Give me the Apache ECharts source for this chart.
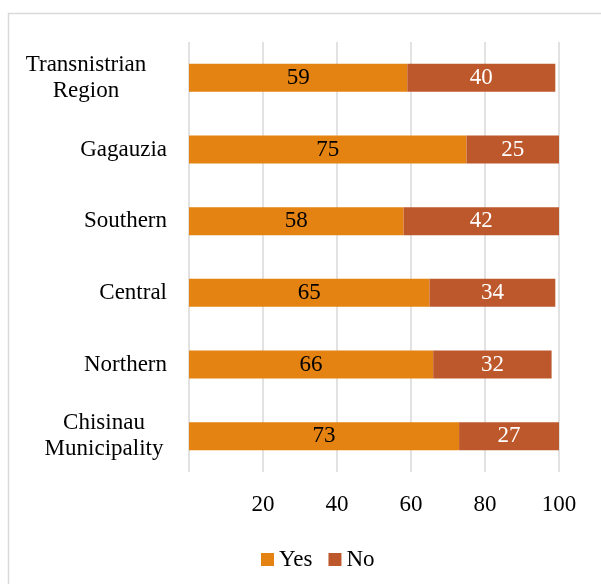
<!DOCTYPE html>
<html>
<head>
<meta charset="utf-8">
<script src="https://cdn.jsdelivr.net/npm/echarts@6/dist/echarts.min.js"></script>
<style>
  html, body { margin: 0; padding: 0; background: #fff; }
  #chart { width: 601px; height: 584px; }
</style>
</head>
<body>
<div id="chart"></div>
<script>
// regions, top to bottom as drawn
var regions = ["Transnistrian\nRegion", "Gagauzia", "Southern", "Central", "Northern", "Chisinau\nMunicipality"];
var yesData = [59, 75, 58, 65, 66, 73];
var noData = [40, 25, 42, 34, 32, 27];
var xTicks = [0, 20, 40, 60, 80, 100];

var font = "Liberation Serif";
var chart = echarts.init(document.getElementById("chart"));

// wrapped labels are centred inside their own box, like the original
function catLabel(v) {
  if (v.indexOf("\n") < 0) return v;
  var key = v.indexOf("Transnistrian") === 0 ? "t" : "m";
  return v.split("\n").map(function (s) { return "{" + key + "|" + s + "}"; }).join("\n");
}

var option = {
  animation: false,
  textStyle: { fontFamily: font },
  graphic: [{
    type: "rect",
    shape: { x: 8.5, y: 13.5, width: 620, height: 600 },
    style: { fill: "none", stroke: "#d9d9d9", lineWidth: 1.5 },
    silent: true
  }],
  grid: { left: 189, right: 42, top: 42, bottom: 112 },
  legend: {
    data: ["Yes", "No"],
    left: 256,
    top: 543,
    itemWidth: 13,
    itemHeight: 13,
    itemGap: 16,
    icon: "rect",
    textStyle: { fontFamily: font, fontSize: 23, color: "#000" }
  },
  xAxis: {
    type: "value",
    min: xTicks[0],
    max: xTicks[xTicks.length - 1],
    interval: 20,
    axisLine: { show: false },
    axisTick: { show: false },
    splitLine: { lineStyle: { color: "#d9d9d9", width: 1.5 } },
    axisLabel: {
      margin: 21,
      fontSize: 23,
      color: "#000",
      fontFamily: font,
      formatter: function (v) { return v === 0 ? "" : String(v); }
    }
  },
  yAxis: {
    type: "category",
    data: regions,
    inverse: true,
    axisLine: { show: false },
    axisTick: { show: false },
    axisLabel: {
      margin: 22,
      fontSize: 23,
      lineHeight: 26,
      color: "#000",
      fontFamily: font,
      formatter: catLabel,
      rich: {
        t: { width: 162, align: "center", fontSize: 23, lineHeight: 26, fontFamily: font, color: "#000" },
        m: { width: 126, align: "center", fontSize: 23, lineHeight: 26, fontFamily: font, color: "#000" }
      }
    }
  },
  series: [
    {
      name: "Yes",
      type: "bar",
      stack: "total",
      barWidth: 28,
      data: yesData,
      itemStyle: { color: "#E48312" },
      label: { show: true, position: "inside", color: "#000", fontSize: 23, fontFamily: font }
    },
    {
      name: "No",
      type: "bar",
      stack: "total",
      barWidth: 28,
      data: noData,
      itemStyle: { color: "#BD582C" },
      label: { show: true, position: "inside", color: "#fff", fontSize: 23, fontFamily: font }
    }
  ]
};

chart.setOption(option);
window.addEventListener("resize", function () { chart.resize(); });
</script>
</body>
</html>
